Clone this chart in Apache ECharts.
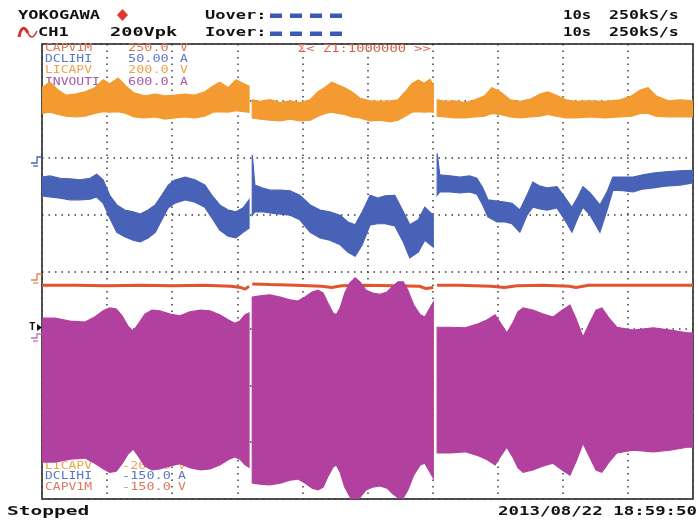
<!DOCTYPE html>
<html><head><meta charset="utf-8">
<script src="https://cdn.jsdelivr.net/npm/echarts@6/dist/echarts.min.js"></script>
<style>html,body{margin:0;padding:0;background:#fff}#c{width:698px;height:520px}</style>
</head><body><div id="c"></div><script>
// ---- axes: time in divisions (10 s record, 1 s/div), amplitude in divisions (0 = bottom)
const timeMin = 0, timeMax = 10, timeStep = 1;
const divMin = 0, divMax = 8, divStep = 1;

// ---- channel labels
const topNames = ['CAPV1M', 'DCLIHI', 'LICAPV', 'INVOUTI'];
const topValues = ['250.0', '50.00', '200.0', '600.0'];
const topUnits = ['V', 'A', 'V', 'A'];
const bottomNames = ['LICAPV', 'DCLIHI', 'CAPV1M'];
const bottomValues = ['-200.0', '-150.0', '-150.0'];
const bottomUnits = ['V', 'A', 'V'];

// ---- LICAPV (orange) envelope: [t, max, min] per acquisition block
const licapv1 = [[0.00,7.23,6.78],[0.12,7.33,6.80],[0.25,7.19,6.76],[0.37,7.10,6.73],[0.51,7.12,6.72],[0.66,7.16,6.73],[0.81,7.23,6.78],[0.94,7.37,6.81],[1.04,7.30,6.80],[1.17,7.40,6.81],[1.29,7.26,6.78],[1.41,7.14,6.72],[1.58,7.09,6.70],[1.74,7.12,6.72],[1.89,7.09,6.68],[2.04,7.10,6.70],[2.20,7.12,6.72],[2.35,7.10,6.70],[2.50,7.16,6.73],[2.63,7.26,6.80],[2.73,7.33,6.81],[2.86,7.23,6.80],[2.98,7.37,6.83],[3.10,7.30,6.81],[3.18,7.26,6.80]];
const licapv2 = [[3.23,7.02,6.70],[3.35,6.99,6.68],[3.50,7.02,6.66],[3.66,6.97,6.65],[3.81,7.00,6.68],[3.96,6.97,6.65],[4.12,7.02,6.66],[4.24,7.16,6.73],[4.35,7.24,6.78],[4.45,7.33,6.80],[4.55,7.28,6.78],[4.65,7.23,6.76],[4.76,7.16,6.72],[4.88,7.05,6.70],[5.04,7.00,6.65],[5.19,6.99,6.66],[5.35,7.00,6.63],[5.47,7.02,6.66],[5.58,7.16,6.73],[5.68,7.30,6.80],[5.78,7.37,6.81],[5.87,7.31,6.80],[5.96,7.38,6.81],[6.01,7.28,6.80]];
const licapv3 = [[6.07,7.02,6.73],[6.19,6.99,6.72],[6.34,7.00,6.70],[6.50,6.97,6.70],[6.65,7.02,6.72],[6.80,7.09,6.73],[6.91,7.23,6.78],[7.04,7.16,6.76],[7.19,7.02,6.72],[7.34,6.99,6.70],[7.50,7.03,6.72],[7.65,7.12,6.73],[7.77,7.16,6.76],[7.90,7.10,6.73],[8.05,7.02,6.70],[8.20,6.99,6.70],[8.42,7.00,6.72],[8.65,6.99,6.70],[8.88,7.02,6.72],[9.06,7.09,6.73],[9.19,7.19,6.78],[9.31,7.23,6.78],[9.43,7.09,6.73],[9.62,7.00,6.72],[9.80,7.02,6.72],[10.00,7.00,6.72]];

// ---- DCLIHI (blue) envelope
const dclihi1 = [[0.00,5.66,5.33],[0.12,5.68,5.31],[0.28,5.64,5.29],[0.43,5.63,5.26],[0.58,5.61,5.26],[0.74,5.64,5.27],[0.84,5.71,5.31],[0.94,5.61,5.20],[1.04,5.34,4.94],[1.15,5.17,4.69],[1.27,5.08,4.61],[1.40,5.05,4.55],[1.51,5.01,4.52],[1.63,5.08,4.59],[1.74,5.17,4.69],[1.84,5.34,4.91],[1.94,5.52,5.12],[2.04,5.61,5.20],[2.20,5.66,5.26],[2.35,5.61,5.22],[2.50,5.52,5.13],[2.61,5.34,4.94],[2.73,5.17,4.73],[2.86,5.08,4.62],[2.98,5.05,4.59],[3.09,5.12,4.69],[3.18,5.26,4.76]];
const dclihi2 = [[3.23,6.05,4.99],[3.27,5.52,5.05],[3.38,5.47,5.05],[3.50,5.43,5.03],[3.66,5.43,5.01],[3.81,5.42,4.99],[3.96,5.34,4.91],[4.12,5.17,4.69],[4.27,5.08,4.59],[4.42,5.05,4.55],[4.58,4.99,4.47],[4.70,4.87,4.34],[4.81,4.82,4.27],[4.92,5.05,4.47],[5.04,5.34,4.82],[5.16,5.29,4.84],[5.27,5.33,4.84],[5.42,5.34,4.80],[5.55,5.05,4.52],[5.65,4.82,4.24],[5.78,4.91,4.34],[5.88,5.13,4.55],[6.01,4.99,4.43]];
const dclihi3 = [[6.07,6.08,5.34],[6.11,5.70,5.40],[6.27,5.68,5.40],[6.42,5.66,5.38],[6.57,5.68,5.40],[6.68,5.64,5.36],[6.77,5.47,5.17],[6.85,5.26,4.96],[6.99,5.24,4.87],[7.11,5.22,4.87],[7.22,5.20,4.84],[7.34,5.08,4.69],[7.45,5.34,4.99],[7.54,5.57,5.13],[7.65,5.50,5.10],[7.76,5.47,5.08],[7.91,5.49,5.12],[8.03,5.31,4.91],[8.14,5.13,4.69],[8.23,5.31,4.94],[8.31,5.49,5.13],[8.42,5.38,4.99],[8.57,5.17,4.69],[8.68,5.40,5.08],[8.77,5.66,5.43],[8.92,5.66,5.42],[9.08,5.66,5.40],[9.23,5.70,5.45],[9.39,5.73,5.47],[9.57,5.75,5.50],[9.80,5.77,5.52],[10.00,5.78,5.56]];

// ---- CAPV1M (red) trace: [t, value]
const capv1 = [[0.00,3.76],[0.50,3.76],[1.00,3.75],[1.50,3.76],[2.00,3.75],[2.50,3.76],[2.90,3.74],[3.05,3.72],[3.12,3.69],[3.18,3.74]];
const capv2 = [[3.23,3.78],[3.50,3.77],[3.90,3.76],[4.30,3.74],[4.45,3.72],[4.60,3.75],[5.00,3.76],[5.40,3.75],[5.80,3.74],[5.90,3.70],[6.01,3.72]];
const capv3 = [[6.07,3.76],[6.40,3.76],[6.90,3.74],[7.10,3.72],[7.30,3.75],[7.70,3.76],[8.10,3.74],[8.20,3.72],[8.40,3.76],[9.00,3.76],[10.00,3.76]];

// ---- INVOUTI (magenta) envelope
const invouti1 = [[0.00,3.18,0.65],[0.20,3.18,0.65],[0.43,3.13,0.70],[0.66,3.11,0.72],[0.81,3.20,0.63],[0.94,3.31,0.53],[1.04,3.36,0.47],[1.14,3.34,0.49],[1.23,3.22,0.62],[1.32,3.04,0.79],[1.40,2.95,0.88],[1.47,3.06,0.77],[1.58,3.25,0.58],[1.69,3.32,0.51],[1.81,3.31,0.53],[1.97,3.25,0.58],[2.12,3.22,0.62],[2.27,3.29,0.55],[2.43,3.32,0.51],[2.58,3.31,0.53],[2.73,3.24,0.60],[2.86,3.15,0.69],[2.96,3.09,0.74],[3.04,3.13,0.70],[3.12,3.24,0.60],[3.18,3.27,0.56]];
const invouti2 = [[3.23,3.55,0.28],[3.35,3.57,0.26],[3.50,3.59,0.25],[3.66,3.55,0.28],[3.81,3.50,0.33],[3.93,3.48,0.35],[4.04,3.55,0.28],[4.15,3.64,0.19],[4.24,3.67,0.16],[4.32,3.62,0.21],[4.39,3.45,0.39],[4.47,3.27,0.56],[4.52,3.24,0.60],[4.58,3.36,0.47],[4.65,3.62,0.21],[4.73,3.80,0.04],[4.81,3.89,-0.05],[4.88,3.82,0.02],[4.98,3.67,0.16],[5.08,3.62,0.21],[5.19,3.60,0.23],[5.30,3.64,0.19],[5.39,3.74,0.09],[5.47,3.82,0.02],[5.55,3.82,0.02],[5.62,3.67,0.16],[5.71,3.41,0.42],[5.81,3.24,0.60],[5.88,3.20,0.63],[5.94,3.32,0.51],[6.01,3.46,0.37]];
const invouti3 = [[6.07,3.02,0.81],[6.27,3.02,0.81],[6.50,3.01,0.83],[6.70,3.08,0.76],[6.84,3.15,0.69],[6.96,3.24,0.60],[7.05,3.08,0.76],[7.14,2.92,0.91],[7.24,3.11,0.72],[7.31,3.29,0.55],[7.39,3.36,0.47],[7.54,3.32,0.51],[7.70,3.25,0.58],[7.85,3.20,0.63],[7.99,3.32,0.51],[8.11,3.41,0.42],[8.20,3.18,0.65],[8.31,2.85,0.98],[8.42,3.11,0.72],[8.51,3.32,0.51],[8.60,3.36,0.47],[8.71,3.18,0.65],[8.83,3.02,0.81],[9.08,2.97,0.86],[9.39,3.01,0.83],[9.65,2.97,0.86],[9.91,2.92,0.91],[10.00,2.92,0.91]];

const C_ORANGE = '#f39a30', C_BLUE = '#4862b8', C_RED = '#e2552c', C_MAG = '#b1409e';
const MONO = '"DejaVu Sans Mono", monospace';

function band(name, blocks, color, z) {
  return {
    type: 'custom', name: name, z: z, clip: true, silent: true,
    data: blocks.map((b, i) => [b[0][0], b[0][1], i]),
    encode: { x: 0, y: 1 },
    renderItem: function (params, api) {
      const b = blocks[params.dataIndex];
      const pts = b.map(p => api.coord([p[0], p[1]]));
      for (let i = b.length - 1; i >= 0; i--) pts.push(api.coord([b[i][0], b[i][2]]));
      return { type: 'polygon', shape: { points: pts }, style: { fill: color, stroke: color, lineWidth: 1.2 } };
    }
  };
}
function line(name, pts, color, z) {
  return { type: 'line', name: name, z: z, data: pts, showSymbol: false, symbol: 'none', silent: true,
    lineStyle: { color: color, width: 3 } };
}

function txt(x, y, s, color, font, sx, z, align) {
  return { type: 'text', x: x, y: y, scaleX: sx || 1, z: z || 10, silent: true,
    style: { text: s, fill: color, font: font, textAlign: align || 'left', textVerticalAlign: 'middle' } };
}
const HF = 'bold 12px ' + MONO;
const SF = '10px ' + MONO;
const topColors = ['#e0785c', '#5a78c8', '#f0a44a', '#a458a8'];
const bottomColors = ['#f0a44a', '#5a78c8', '#e0785c'];

const graphics = [
  txt(18, 16, 'YOKOGAWA', '#111', HF, 1.42),
  { type: 'polygon', z: 10, shape: { points: [[122.5, 9], [128, 15], [122.5, 21], [117, 15]] }, style: { fill: '#e03a2a' } },
  txt(205, 16, 'Uover:', '#111', HF, 1.42),
  txt(563, 16, '10s', '#111', HF, 1.3),
  txt(609, 16, '250kS/s', '#111', HF, 1.38),
  { type: 'bezierCurve', z: 10, shape: { x1: 19, y1: 37, x2: 28, y2: 33, cpx1: 22, cpy1: 22 }, style: { stroke: '#d8302a', lineWidth: 3, fill: null } },
  { type: 'bezierCurve', z: 10, shape: { x1: 28, y1: 33, x2: 37, y2: 31, cpx1: 32, cpy1: 42 }, style: { stroke: '#d8302a', lineWidth: 1.5, fill: null } },
  txt(38, 33, 'CH1', '#111', HF, 1.42),
  txt(110, 33, '200Vpk', '#111', HF, 1.55),
  txt(205, 33, 'Iover:', '#111', HF, 1.42),
  txt(563, 33, '10s', '#111', HF, 1.3),
  txt(609, 33, '250kS/s', '#111', HF, 1.38),
  txt(7, 512, 'Stopped', '#111', 'bold 13px ' + MONO, 1.5),
  txt(498, 512, '2013/08/22 18:59:50', '#111', HF, 1.45),
  txt(298, 49.5, 'Σ< Z1:1000000 >>', '#d8604a', SF, 1.38, 1)
];
[270, 290, 310, 330].forEach(x => {
  graphics.push({ type: 'rect', z: 10, shape: { x: x, y: 13.5, width: 12, height: 4.5 }, style: { fill: '#3a5ab8' } });
  graphics.push({ type: 'rect', z: 10, shape: { x: x, y: 31.5, width: 12, height: 4.5 }, style: { fill: '#3a5ab8' } });
});
topNames.forEach((n, i) => {
  const y = 48.5 + i * 11.2;
  graphics.push(txt(45, y, n, topColors[i], SF, 1.3, 1));
  graphics.push(txt(128, y, topValues[i], topColors[i], SF, 1.35, 1));
  graphics.push(txt(180, y, topUnits[i], topColors[i], SF, 1.3, 1));
});
bottomNames.forEach((n, i) => {
  const y = 466 + i * 10.5;
  graphics.push(txt(45, y, n, bottomColors[i], SF, 1.3, 1));
  graphics.push(txt(122, y, bottomValues[i], bottomColors[i], SF, 1.35, 1));
  graphics.push(txt(178, y, bottomUnits[i], bottomColors[i], SF, 1.3, 1));
});
// ground / trigger markers at left edge
graphics.push({ type: 'polyline', z: 10, shape: { points: [[31, 163], [37, 163], [37, 157], [42, 157]] }, style: { stroke: C_BLUE, lineWidth: 1.3, fill: null } });
graphics.push({ type: 'line', z: 10, shape: { x1: 33, y1: 166, x2: 38, y2: 166 }, style: { stroke: C_BLUE, lineWidth: 1.3 } });
graphics.push({ type: 'polyline', z: 10, shape: { points: [[31, 280], [37, 280], [37, 274], [42, 274]] }, style: { stroke: '#e8844a', lineWidth: 1.3, fill: null } });
graphics.push({ type: 'line', z: 10, shape: { x1: 33, y1: 283, x2: 38, y2: 283 }, style: { stroke: '#e8844a', lineWidth: 1.3 } });
graphics.push(txt(29, 327, 'T', '#111', 'bold 10px ' + MONO, 1.1));
graphics.push({ type: 'polygon', z: 10, shape: { points: [[37, 324], [42, 327.5], [37, 331]] }, style: { fill: '#111' } });
graphics.push({ type: 'polyline', z: 10, shape: { points: [[31, 338], [37, 338], [37, 334], [42, 334]] }, style: { stroke: '#c070b8', lineWidth: 1.3, fill: null } });
graphics.push({ type: 'line', z: 10, shape: { x1: 33, y1: 341, x2: 38, y2: 341 }, style: { stroke: '#c070b8', lineWidth: 1.3 } });

const dotted = { show: true, lineStyle: { color: '#3a3a3a', width: 1.5, type: [1.5, 5] } };
const chart = echarts.init(document.getElementById('c'), null, { renderer: 'canvas' });
chart.setOption({
  animation: false,
  backgroundColor: '#fff',
  grid: { left: 42, top: 44, width: 651, height: 455, show: true, borderColor: '#1a1a1a', borderWidth: 1.5, backgroundColor: 'transparent' },
  xAxis: { type: 'value', min: timeMin, max: timeMax, interval: timeStep, axisLine: { show: false }, axisTick: { show: false }, axisLabel: { show: false }, splitLine: dotted },
  yAxis: { type: 'value', min: divMin, max: divMax, interval: divStep, axisLine: { show: false }, axisTick: { show: false }, axisLabel: { show: false }, splitLine: dotted },
  graphic: { elements: graphics },
  series: [
    band('LICAPV', [licapv1, licapv2, licapv3], C_ORANGE, 3),
    band('DCLIHI', [dclihi1, dclihi2, dclihi3], C_BLUE, 4),
    line('CAPV1M', capv1, C_RED, 5), line('CAPV1M', capv2, C_RED, 5), line('CAPV1M', capv3, C_RED, 5),
    band('INVOUTI', [invouti1, invouti2, invouti3], C_MAG, 6)
  ]
});
</script></body></html>
